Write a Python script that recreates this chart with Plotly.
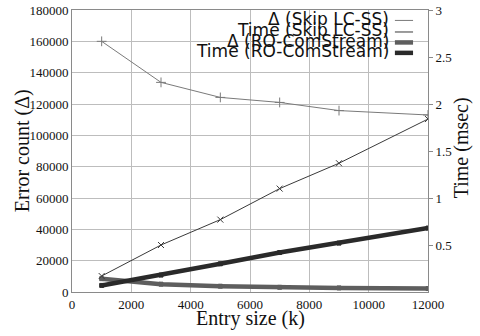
import plotly.graph_objects as go

entry_size = [1000, 3000, 5000, 7000, 9000, 12000]
delta_skip = [160000, 133800, 124200, 121000, 115800, 113000]
time_skip = [0.17, 0.50, 0.77, 1.10, 1.37, 1.84]
delta_ro = [8500, 5000, 3700, 3000, 2600, 2200]
time_ro = [0.07, 0.18, 0.30, 0.42, 0.52, 0.68]

legend_names = ["Δ (Skip LC-SS)", "Time (Skip LC-SS)", "Δ (RO-ComStream)", "Time (RO-ComStream)"]
left_ticks = [0, 20000, 40000, 60000, 80000, 100000, 120000, 140000, 160000, 180000]
left_labels = [str(v) for v in left_ticks]
right_ticks = [0.5, 1, 1.5, 2, 2.5, 3]
right_labels = ["0.5", "1", "1.5", "2", "2.5", "3"]
x_ticks = [0, 2000, 4000, 6000, 8000, 10000, 12000]
x_labels = [str(v) for v in x_ticks]

styles = [
    dict(color="#7a7a7a", width=1, symbol="cross-thin", msize=7),
    dict(color="#3a3a3a", width=1, symbol="x-thin", msize=6),
    dict(color="#5e5e5e", width=4.5, symbol="square", msize=4),
    dict(color="#2a2a2a", width=4.5, symbol="square", msize=4),
]
series = [(delta_skip, "y"), (time_skip, "y2"), (delta_ro, "y"), (time_ro, "y2")]

fig = go.Figure()
for (vals, ax), st, name in zip(series, styles, legend_names):
    fig.add_trace(go.Scatter(
        x=entry_size, y=vals, yaxis=ax, name=name, mode="lines+markers",
        line=dict(color=st["color"], width=st["width"]),
        marker=dict(symbol=st["symbol"], size=st["msize"], color=st["color"],
                    line=dict(color=st["color"], width=1)),
        showlegend=False,
    ))

# custom legend (text right-aligned, sample line on the right)
row_y = [0.963, 0.922, 0.885, 0.848]
for name, st, ry in zip(legend_names, styles, row_y):
    fig.add_annotation(xref="paper", yref="paper", x=0.895, y=ry + 0.006, text=name,
                       showarrow=False, xanchor="right", yanchor="middle",
                       font=dict(family="DejaVu Sans", size=17, color="#111"))
    fig.add_shape(type="line", xref="paper", yref="paper", x0=0.907, x1=0.958,
                  y0=ry, y1=ry,
                  line=dict(color=st["color"], width=st["width"] if st["width"] > 1 else 1))

serif = "Liberation Serif, Times New Roman, serif"
title_font = dict(family=serif, size=20, color="#111")
# axis titles
fig.add_annotation(xref="paper", yref="paper", x=0.5, y=-0.095, text="Entry size (k)",
                   showarrow=False, xanchor="center", yanchor="middle", font=title_font)
fig.add_annotation(xref="paper", yref="paper", x=-0.14, y=0.5, text="Error count (Δ)",
                   showarrow=False, xanchor="center", yanchor="middle", textangle=-90,
                   font=title_font)
fig.add_annotation(xref="paper", yref="paper", x=1.093, y=0.51, text="Time (msec)",
                   showarrow=False, xanchor="center", yanchor="middle", textangle=-90,
                   font=title_font)

tick_font = dict(family=serif, size=13, color="#111")
fig.update_layout(
    width=480, height=336,
    margin=dict(l=72, r=52, t=10, b=44),
    plot_bgcolor="white", paper_bgcolor="white",
    font=dict(family=serif, size=13, color="#111"),
    xaxis=dict(range=[0, 12000], tickvals=x_ticks, ticktext=x_labels, showgrid=True,
               gridcolor="#bdbdbd", gridwidth=1, zeroline=False, showline=True,
               linecolor="#8a8a8a", mirror=True, ticks="", automargin=False,
               tickfont=tick_font),
    yaxis=dict(range=[0, 180000], tickvals=left_ticks, ticktext=left_labels, showgrid=True,
               gridcolor="#bdbdbd", gridwidth=1, zeroline=False, showline=True,
               linecolor="#8a8a8a", mirror=True, ticks="", automargin=False,
               tickfont=tick_font),
    yaxis2=dict(range=[0, 3], tickvals=right_ticks, ticktext=right_labels, overlaying="y",
                side="right", showgrid=False, zeroline=False, ticks="outside", ticklen=4,
                tickcolor="#8a8a8a", automargin=False, tickfont=tick_font),
)

fig.write_html("out.html", config={"displayModeBar": False},
               post_script="document.body.style.margin='0';document.body.style.overflow='hidden';")
